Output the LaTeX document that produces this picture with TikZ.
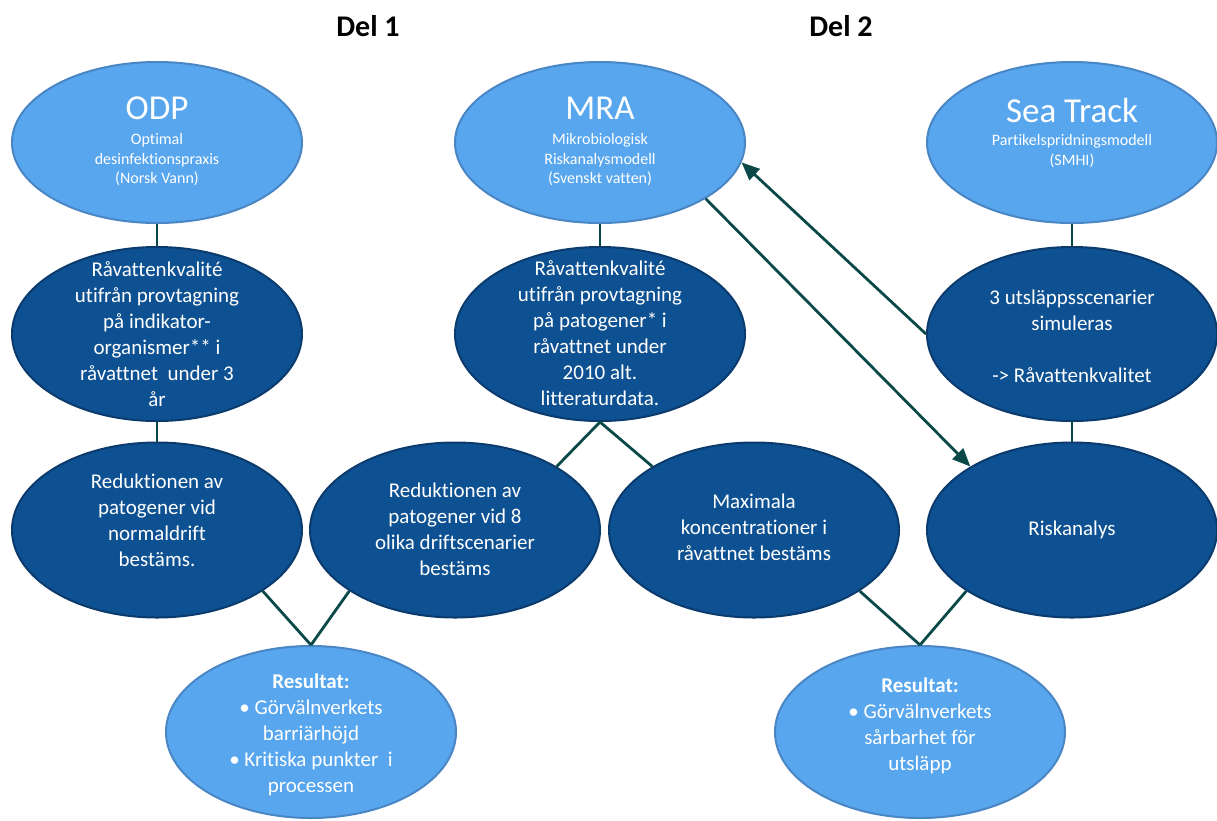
\documentclass[tikz,border=0pt]{standalone}
\usepackage{fontspec}
\setmainfont{Carlito}[Ligatures={TeX,NoCommon}]
\usetikzlibrary{shapes.geometric,arrows.meta}
\definecolor{lightb}{HTML}{58A6EE}
\definecolor{lightbd}{HTML}{4A86C4}
\definecolor{darkb}{HTML}{0E5192}
\definecolor{darkbd}{HTML}{0B3A6C}
\definecolor{conn}{HTML}{0B4848}
\begin{document}
\begin{tikzpicture}[x=1pt,y=-1pt,
  lell/.style={ellipse, draw=lightbd, line width=2pt, fill=lightb, minimum width=290pt, inner sep=0pt},
  dell/.style={ellipse, draw=darkbd, line width=2pt, fill=darkb, minimum width=290pt, minimum height=175pt, inner sep=0pt},
  txt/.style={text=white, align=center, inner sep=0pt, font=\fontsize{21}{26}\selectfont},
  ttl/.style={text=white, align=center, inner sep=0pt, font=\fontsize{35}{40}\selectfont},
  sub/.style={text=white, align=center, inner sep=0pt, font=\fontsize{16}{19.5}\selectfont},
  hdr/.style={text=black, inner sep=0pt, font=\fontsize{30}{34}\selectfont\bfseries},
  link/.style={draw=conn, line width=2.8pt},
  arr/.style={draw=conn, line width=2.8pt, -{Triangle[length=18pt,width=15pt]}}
]
\useasboundingbox (0,0) rectangle (1217,820);

% headers
\node[hdr] (del1) at (368,26) {Del 1};
\node[hdr] (del2) at (841,26) {Del 2};

% ellipses
\node[lell, minimum height=161pt] (odp) at (157,142.5) {};
\node[lell, minimum height=161pt] (mra) at (600,142.5) {};
\node[lell, minimum height=161pt] (sea) at (1072,142.5) {};

\node[dell, minimum height=174pt] (o2) at (157,334) {};
\node[dell, minimum height=174pt] (m2) at (600,334) {};
\node[dell, minimum height=174pt] (s2) at (1072,334) {};

\node[dell] (a) at (157,530) {};
\node[dell] (b) at (455,530) {};
\node[dell] (c) at (754,530) {};
\node[dell] (d) at (1072,530) {};

\node[lell, minimum height=172pt] (r1) at (311,732) {};
\node[lell, minimum height=172pt] (r2) at (920,732) {};

% connectors
\draw[link] (odp.south) -- (o2.north);
\draw[link] (o2.south) -- (a.north);
\draw[link] (mra.south) -- (m2.north);
\draw[link] (m2.south) -- (b.32);
\draw[link] (m2.south) -- (c.148);
\draw[link] (sea.south) -- (s2.north);
\draw[link] (s2.south) -- (d.north);
\draw[link] (a.-30) -- (r1.north);
\draw[link] (b.210) -- (r1.north);
\draw[link] (c.-30) -- (r2.north);
\draw[link] (d.210) -- (r2.north);
\draw[arr] (s2.west) -- (mra.-8);
\draw[arr] (mra.-28) -- (d.148);

% texts
\node[ttl] (odpt) at (157,108.5) {ODP};
\node[sub] (odps) at (157,160) {Optimal\\desinfektionspraxis\\(Norsk Vann)};
\node[ttl] (mrat) at (600,108) {MRA};
\node[sub] (mras) at (600,160) {Mikrobiologisk\\Riskanalysmodell\\(Svenskt vatten)};
\node[ttl] (seat) at (1072,110) {Sea Track};
\node[sub] (seas) at (1072,151) {Partikelspridningsmodell\\(SMHI)};

\node[txt] (o2t) at (157,334.5) {Råvattenkvalité\\utifrån provtagning\\på indikator-\\organismer** i\\råvattnet\ \ under 3\\år};
\node[txt] (m2t) at (600,333.5) {Råvattenkvalité\\utifrån provtagning\\på patogener* i\\råvattnet under\\2010 alt.\\litteraturdata.};
\node[txt] (s2t) at (1072,336) {3 utsläppsscenarier\\simuleras\\\mbox{}\\-> Råvattenkvalitet};

\node[txt] (at) at (157,520) {Reduktionen av\\patogener vid\\normaldrift\\bestäms.};
\node[txt] (bt) at (455,529) {Reduktionen av\\patogener vid 8\\olika driftscenarier\\bestäms};
\node[txt] (ct) at (754,527.5) {Maximala\\koncentrationer i\\råvattnet bestäms};
\node[txt] (dt) at (1072,530) {Riskanalys};

\node[txt] (r1t) at (311,735) {\textbf{Resultat:}\\• Görvälnverkets\\barriärhöjd\\• Kritiska punkter\ \ i\\processen};
\node[txt] (r2t) at (920,726) {\textbf{Resultat:}\\• Görvälnverkets\\sårbarhet för\\utsläpp};
\end{tikzpicture}
\end{document}
